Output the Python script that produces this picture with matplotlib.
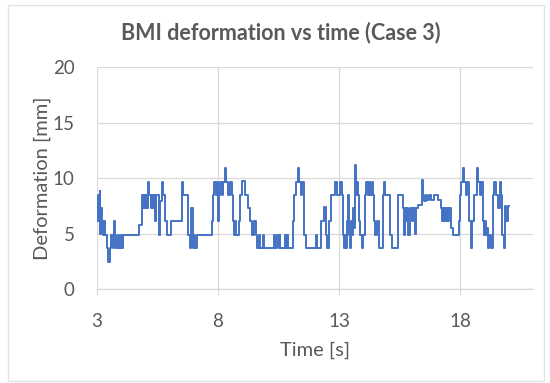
import matplotlib
matplotlib.use("Agg")
import matplotlib.pyplot as plt
from matplotlib.patches import Rectangle

time_s = [3.00, 3.03, 3.06, 3.09, 3.12, 3.15, 3.18, 3.21, 3.25, 3.30, 3.35, 3.42, 3.48, 3.54,
          3.60, 3.65, 3.70, 3.74, 3.80, 3.86, 3.92, 3.98, 4.05, 4.10, 4.75, 4.85, 4.92, 4.96,
          5.00, 5.04, 5.08, 5.12, 5.16, 5.22, 5.26, 5.32, 5.36, 5.42, 5.46, 5.55, 5.62, 5.68,
          5.74, 5.80, 5.90, 6.05, 6.50, 6.56, 6.75, 6.85, 6.90, 6.95, 7.00, 7.05, 7.12, 7.75,
          7.80, 7.85, 7.90, 7.95, 8.00, 8.04, 8.10, 8.16, 8.22, 8.28, 8.32, 8.40, 8.50, 8.56,
          8.62, 8.66, 8.70, 8.75, 8.85, 8.92, 9.00, 9.12, 9.25, 9.32, 9.42, 9.50, 9.55, 9.60,
          9.70, 9.73, 9.85, 9.88, 10.30, 10.35, 10.45, 10.50, 10.55, 10.58, 10.75, 10.80, 10.85,
          10.90, 11.10, 11.15, 11.22, 11.30, 11.34, 11.42, 11.48, 11.55, 11.62, 12.05, 12.10,
          12.25, 12.38, 12.44, 12.50, 12.58, 12.65, 12.85, 12.90, 13.05, 13.10, 13.15, 13.20,
          13.24, 13.28, 13.32, 13.38, 13.42, 13.46, 13.50, 13.55, 13.58, 13.62, 13.66, 13.70,
          13.74, 13.78, 13.84, 13.88, 13.94, 14.00, 14.06, 14.12, 14.18, 14.22, 14.28, 14.34,
          14.40, 14.45, 14.50, 14.58, 14.64, 14.80, 14.85, 14.90, 15.12, 15.20, 15.45, 15.62,
          15.66, 15.70, 15.75, 15.80, 15.86, 15.92, 16.00, 16.06, 16.12, 16.18, 16.25, 16.42,
          16.48, 16.52, 16.58, 16.64, 16.70, 16.80, 16.90, 17.10, 17.20, 17.24, 17.28, 17.32,
          17.36, 17.40, 17.45, 17.50, 17.55, 17.62, 17.70, 17.95, 18.00, 18.05, 18.10, 18.15,
          18.22, 18.28, 18.35, 18.45, 18.50, 18.55, 18.70, 18.74, 18.80, 18.86, 18.95, 19.00,
          19.04, 19.08, 19.12, 19.16, 19.20, 19.28, 19.35, 19.40, 19.48, 19.55, 19.62, 19.70,
          19.74, 19.80, 19.85, 19.90, 19.95, 20.00]

deformation_mm = [7.3, 6.1, 8.5, 6.1, 8.8, 5.0, 7.3, 6.1, 4.9, 6.1, 4.9, 3.7, 2.4, 3.7,
                  4.9, 3.7, 6.1, 4.9, 3.7, 4.9, 3.7, 4.9, 3.7, 4.9, 5.8, 8.5, 7.3, 8.5,
                  7.3, 8.5, 7.3, 9.6, 8.5, 7.3, 8.5, 7.3, 8.5, 6.1, 8.5, 4.9, 7.9, 9.6,
                  8.5, 6.1, 4.9, 6.1, 9.6, 8.5, 4.9, 3.7, 7.3, 3.7, 4.9, 3.7, 4.9, 6.1,
                  8.5, 9.6, 8.5, 9.6, 6.1, 8.5, 9.6, 8.5, 9.6, 10.9, 9.6, 8.5, 9.6, 8.5,
                  6.1, 4.9, 6.1, 4.9, 6.1, 8.5, 9.7, 8.5, 7.3, 6.1, 4.9, 6.1, 4.9, 3.7,
                  4.9, 3.7, 4.9, 3.7, 4.9, 3.7, 4.9, 3.7, 4.9, 3.7, 4.9, 3.7, 4.9,
                  3.7, 6.1, 8.5, 9.6, 10.9, 9.6, 8.5, 9.6, 4.9, 3.7, 4.9, 3.7,
                  6.1, 7.4, 4.9, 3.7, 6.1, 8.5, 9.6, 8.5, 9.6, 8.5, 4.9, 3.7,
                  4.9, 3.7, 6.1, 8.5, 4.9, 3.7, 6.1, 4.9, 7.3, 5.5, 11.2, 8.5,
                  9.6, 8.5, 6.1, 4.9, 3.7, 4.9, 8.5, 9.6, 8.5, 9.6, 8.5, 9.6,
                  8.5, 6.1, 4.9, 6.1, 3.7, 8.5, 9.6, 8.5, 4.9, 3.7, 8.5, 7.3,
                  4.9, 7.3, 6.1, 7.3, 4.9, 7.3, 6.1, 7.3, 5.0, 7.3, 7.6, 9.8,
                  8.5, 7.9, 8.5, 8.0, 8.5, 8.0, 8.5, 8.0, 7.3, 6.1, 7.3, 6.1,
                  7.3, 6.1, 7.3, 6.1, 7.3, 5.5, 4.9, 6.1, 8.5, 9.6, 10.9, 9.6,
                  8.5, 9.6, 6.1, 3.7, 6.1, 8.5, 10.9, 9.6, 8.5, 9.6, 6.1, 4.9,
                  6.1, 4.9, 5.5, 3.7, 4.9, 3.7, 8.5, 9.6, 8.5, 7.3, 9.6, 8.5,
                  4.9, 3.7, 7.5, 6.1, 7.5, 7.5]

x_ticks = [3, 8, 13, 18]
y_ticks = [0, 5, 10, 15, 20]

title = "BMI deformation vs time (Case 3)"
x_label = "Time [s]"
y_label = "Deformation [mm]"

plt.rcParams['font.family'] = ['Lato', 'DejaVu Sans']
text_color = "#595959"
grid_color = "#d9d9d9"
line_color = "#4472C4"

fig = plt.figure(figsize=(5.5, 3.83), dpi=100)
fig.patch.set_facecolor("white")
fig.patches.append(Rectangle((0.014, 0.005), 0.975, 0.982, transform=fig.transFigure,
                             fill=False, edgecolor="#e3e3e3", linewidth=1.0))

ax = fig.add_axes([0.176, 0.2454, 0.793, 0.5796])
ax.plot(time_s, deformation_mm, drawstyle="steps-post", color=line_color, linewidth=1.4)

ax.set_xlim(3, 21)
ax.set_ylim(0, 20)
ax.set_xticks(x_ticks)
ax.set_yticks(y_ticks)
ax.grid(True, color=grid_color, linewidth=0.9)
ax.set_axisbelow(True)
for side in ["top", "right", "left"]:
    ax.spines[side].set_visible(False)
ax.spines["bottom"].set_color(grid_color)
ax.spines["bottom"].set_linewidth(0.9)
ax.tick_params(axis="both", length=0, labelsize=13.5, labelcolor=text_color)
ax.tick_params(axis="y", pad=16)
ax.tick_params(axis="x", length=4, color=grid_color, pad=13)

ax.set_xlabel(x_label, fontsize=14.5, color=text_color, labelpad=9)
ax.set_ylabel(y_label, fontsize=14.5, color=text_color, labelpad=1)
fig.text(0.51, 0.914, title, ha="center", va="center", fontsize=15.5,
         fontweight="bold", color=text_color)

fig.savefig("out.png", dpi=100)
